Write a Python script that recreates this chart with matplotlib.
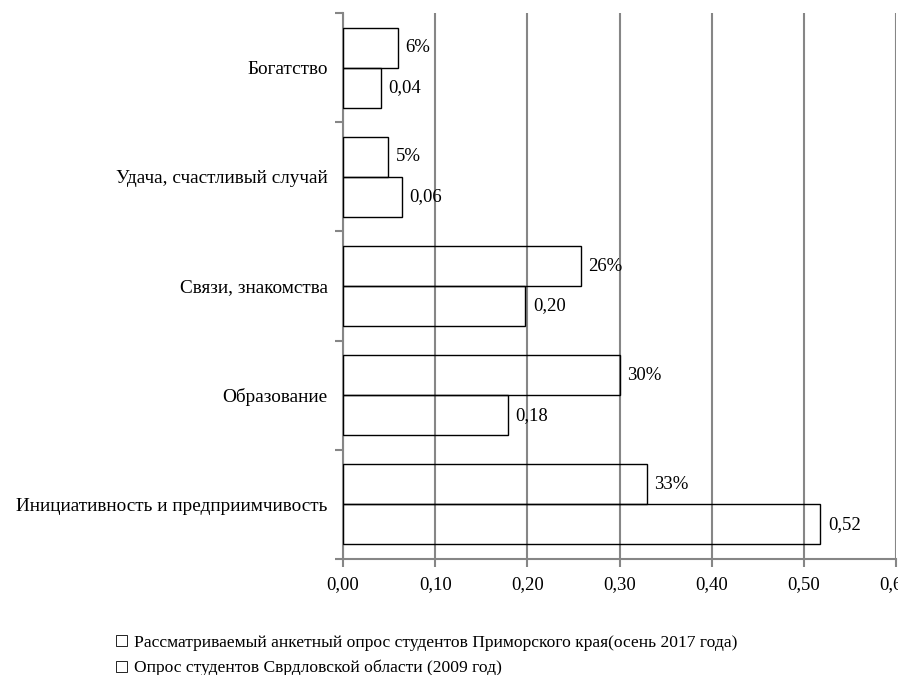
import matplotlib.pyplot as plt
import numpy as np
from matplotlib.patches import Patch

categories = ['Инициативность и предприимчивость', 'Образование',
              'Связи, знакомства', 'Удача, счастливый случай', 'Богатство']
vals_2017 = [0.33, 0.30, 0.258, 0.049, 0.06]
labels_2017 = ['33%', '30%', '26%', '5%', '6%']
vals_2009 = [0.518, 0.179, 0.198, 0.064, 0.041]
series_names = ['Рассматриваемый анкетный опрос студентов Приморского края(осень 2017 года)',
                'Опрос студентов Сврдловской области (2009 год)']
x_ticks = [0.0, 0.1, 0.2, 0.3, 0.4, 0.5, 0.6]

plt.rcParams['font.family'] = ['Liberation Serif', 'DejaVu Serif']
grid_col = '#868686'
fs = 13.5

fig = plt.figure(figsize=(8.98, 6.75), dpi=100)
ax = fig.add_axes([343 / 898, 1 - 559 / 675, 553 / 898, 546 / 675])

y = np.arange(len(categories))
h = 0.366
ax.barh(y + h / 2, vals_2017, height=h, facecolor='none', edgecolor='black', linewidth=1.0, zorder=3)
ax.barh(y - h / 2, vals_2009, height=h, facecolor='none', edgecolor='black', linewidth=1.0, zorder=3)

for yi, v, lab in zip(y, vals_2017, labels_2017):
    ax.text(v + 0.008, yi + h / 2, lab, va='center', ha='left', fontsize=fs, zorder=4)
for yi, v in zip(y, vals_2009):
    ax.text(v + 0.008, yi - h / 2, f'{v:.2f}'.replace('.', ','), va='center', ha='left', fontsize=fs, zorder=4)

ax.set_xlim(0, 0.6)
ax.set_ylim(-0.5, len(categories) - 0.5)
ax.set_xticks(x_ticks)
ax.set_xticklabels([f'{t:.2f}'.replace('.', ',') for t in x_ticks], fontsize=fs)
ax.set_yticks(y)
ax.set_yticklabels(categories, fontsize=13.9)
ax.set_yticks(np.arange(-0.5, len(categories)), minor=True)
ax.tick_params(axis='y', which='major', length=0, pad=11)
ax.tick_params(axis='y', which='minor', length=6, color=grid_col, width=1.5, direction='out')
ax.tick_params(axis='x', length=6, color=grid_col, width=1.5, direction='out', pad=6)

ax.xaxis.grid(True, color=grid_col, linewidth=1.5, zorder=0)
ax.set_axisbelow(True)
for s in ['top', 'right']:
    ax.spines[s].set_visible(False)
for s in ['left', 'bottom']:
    ax.spines[s].set_color(grid_col)
    ax.spines[s].set_linewidth(1.5)

handles = [Patch(facecolor='white', edgecolor='black', linewidth=0.6) for _ in series_names]
fig.legend(handles, series_names, loc='upper left', bbox_to_anchor=(109 / 898, 1 - 628 / 675),
           frameon=False, fontsize=12.6, handlelength=0.6, handleheight=0.6, handletextpad=0.4,
           labelspacing=0.5, borderaxespad=0)

fig.savefig('out.png', dpi=100)
